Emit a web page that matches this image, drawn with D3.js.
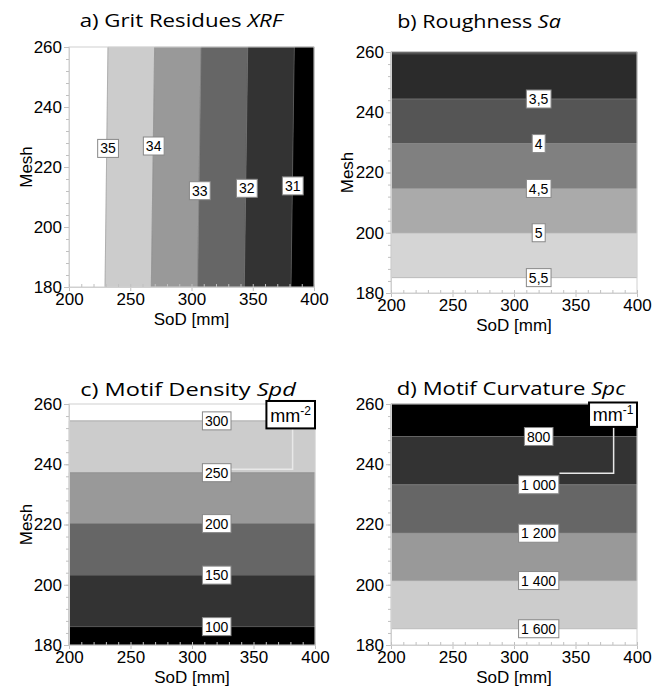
<!DOCTYPE html>
<html><head><meta charset="utf-8">
<script src="https://cdn.jsdelivr.net/npm/d3@7"></script>
<style>
html,body{margin:0;padding:0;background:#fff;}
svg{display:block;}
</style></head>
<body>
<svg id="chart" width="665" height="694"></svg>
<script>
// ---------- data ----------
const sodTicks = [200, 250, 300, 350, 400];
const meshTicks = [180, 200, 220, 240, 260];
const sodDomain = [200, 400];
const meshDomain = [180, 260];

// a) Grit residues XRF (vertical contour boundaries, slightly slanted)
const xrfLevels = ["35", "34", "33", "32", "31"];
const xrfSodAtTop = [231.8, 269.9, 307.8, 345.9, 383.9];
const xrfSodAtBottom = [229.4, 267.2, 305.0, 343.1, 381.2];
const xrfLabelSod = [231.8, 269.1, 306.7, 345.1, 382.6];
const xrfLabelMesh = [226.2, 227.0, 212.1, 212.9, 213.7];
const xrfBandColors = ["#ffffff", "#cccccc", "#999999", "#666666", "#333333", "#000000"];

// b) Roughness Sa (horizontal boundaries, top to bottom)
const saLevels = ["3", "3,5", "4", "4,5", "5", "5,5"];
const saMesh = [259.4, 244.4, 229.6, 214.7, 200.0, 185.1];
const saShowLabel = [false, true, true, true, true, true];
const saLabelSod = 320;
const saBandColors = ["#000000", "#2b2b2b", "#555555", "#808080", "#aaaaaa", "#d5d5d5", "#ffffff"];

// c) Motif density Spd
const spdLevels = ["300", "250", "200", "150", "100"];
const spdMesh = [254.4, 237.2, 220.3, 203.2, 186.1];
const spdLabelSod = 320;
const spdBandColors = ["#ffffff", "#cccccc", "#999999", "#666666", "#333333", "#000000"];
const spdUnit = ["mm", "-2"];

// d) Motif curvature Spc
const spcLevels = ["800", "1 000", "1 200", "1 400", "1 600"];
const spcMesh = [249.2, 233.2, 217.1, 201.4, 185.4];
const spcLabelSod = 320;
const spcBandColors = ["#000000", "#333333", "#666666", "#999999", "#cccccc", "#ffffff"];
const spcUnit = ["mm", "-1"];

// ---------- layout ----------
const svg = d3.select("#chart");
const TICK_FONT = "'Liberation Sans', Arial, sans-serif";
const TITLE_FONT = "'Open Sans', 'Noto Sans', sans-serif";

function makePanel(p) {
  const x = d3.scaleLinear().domain(sodDomain).range([p.x0, p.x1]);
  const y = d3.scaleLinear().domain(meshDomain).range([p.y1, p.y0]);
  const g = svg.append("g");
  const line = d3.line().x(d => x(d[0])).y(d => y(d[1]));

  // bands
  const bands = p.bands(x, y);
  g.selectAll("path.band").data(bands).join("path")
    .attr("class", "band")
    .attr("d", d => line(d.poly) + "Z")
    .attr("fill", d => d.color)
    .attr("stroke", d => d.color)
    .attr("stroke-width", 0.5);

  // boundary lines
  g.selectAll("path.bound").data(p.bounds).join("path")
    .attr("class", "bound")
    .attr("d", d => line(d))
    .attr("fill", "none")
    .attr("stroke", "#8c8c8c")
    .attr("stroke-opacity", 0.55)
    .attr("stroke-width", 1);

  // frame
  g.append("rect")
    .attr("x", p.x0).attr("y", p.y0)
    .attr("width", p.x1 - p.x0).attr("height", p.y1 - p.y0)
    .attr("fill", "none").attr("stroke", "#d0d0d0").attr("stroke-width", 1);

  // axes
  const yAxis = g.append("g").attr("transform", `translate(${p.x0},0)`)
    .call(d3.axisLeft(y).tickValues(meshTicks).tickSize(5).tickPadding(2));
  const yMinor = g.append("g").attr("transform", `translate(${p.x0},0)`)
    .call(d3.axisLeft(y).tickValues(d3.range(180, 261, 4)).tickSize(3).tickFormat(""));
  const xAxis = g.append("g").attr("transform", `translate(0,${p.y1})`)
    .call(d3.axisBottom(x).tickValues(sodTicks).tickSize(4).tickPadding(2));
  const xMinor = g.append("g").attr("transform", `translate(0,${p.y1})`)
    .call(d3.axisBottom(x).tickValues(d3.range(200, 401, 10)).tickSize(-3).tickFormat(""));
  [yAxis, yMinor, xAxis, xMinor].forEach(a => {
    a.select(".domain").attr("stroke", "#d0d0d0");
    a.selectAll(".tick line").attr("stroke", "#c0c0c0");
    a.selectAll("text").attr("font-family", TICK_FONT).attr("font-size", 17).attr("fill", "#000");
  });

  // title (stretched horizontally to the reference's width)
  const tg = g.append("g");
  const t = tg.append("text").attr("x", 0).attr("y", 0)
    .attr("text-anchor", "middle").attr("font-family", TITLE_FONT)
    .attr("font-size", 19).attr("fill", "#000");
  t.append("tspan").text(p.title[0]);
  t.append("tspan").attr("font-style", "italic").text(p.title[1]);
  const tw = t.node().getBBox().width;
  tg.attr("transform", `translate(${p.titleX},${p.titleY}) scale(${p.titleW / tw},1)`);

  g.append("text").attr("x", (p.x0 + p.x1) / 2).attr("y", p.y1 + 38)
    .attr("text-anchor", "middle").attr("font-family", TICK_FONT)
    .attr("font-size", 17).attr("fill", "#000").text("SoD [mm]");
  if (p.meshLabel) {
    g.append("text")
      .attr("transform", `translate(${p.meshX},${(p.y0 + p.y1) / 2}) rotate(-90)`)
      .attr("text-anchor", "middle").attr("font-family", TICK_FONT)
      .attr("font-size", 17).attr("fill", "#000").text("Mesh");
  }

  // leader line and unit box
  if (p.unit) {
    const u = p.unit;
    g.append("path")
      .attr("d", line([[u.leaderSod, u.boxMeshBottom], [u.leaderSod, u.leaderMesh], [u.leaderEndSod, u.leaderMesh]]))
      .attr("fill", "none").attr("stroke", "#e8e8e8").attr("stroke-width", 1.5);
    const bx0 = x(u.boxSod0), bx1 = x(u.boxSod1), by0 = y(u.boxMeshTop), by1 = y(u.boxMeshBottom);
    g.append("rect").attr("x", bx0).attr("y", by0)
      .attr("width", bx1 - bx0).attr("height", by1 - by0)
      .attr("fill", "#fff").attr("stroke", "#000").attr("stroke-width", 2);
    const ut = g.append("text").attr("x", (bx0 + bx1) / 2).attr("y", by1 - 6)
      .attr("text-anchor", "middle").attr("font-family", TICK_FONT)
      .attr("font-size", 18).attr("fill", "#000");
    ut.append("tspan").text(u.text[0]);
    ut.append("tspan").attr("dy", -7).attr("font-size", 12).text(u.text[1]);
  }

  // contour labels
  const lab = g.selectAll("g.lab").data(p.labels).join("g").attr("class", "lab")
    .attr("transform", d => `translate(${x(d.sod)},${y(d.mesh)})`);
  lab.append("text").attr("text-anchor", "middle").attr("dy", "0.36em")
    .attr("font-family", TICK_FONT).attr("font-size", 14).attr("fill", "#000")
    .text(d => d.text);
  lab.each(function () {
    const gg = d3.select(this);
    const bb = gg.select("text").node().getBBox();
    gg.insert("rect", "text")
      .attr("x", bb.x - 2.5).attr("y", -9)
      .attr("width", bb.width + 5).attr("height", 18)
      .attr("fill", "#fff").attr("stroke", "#888").attr("stroke-width", 1);
  });
}

function verticalBands(top, bottom, colors) {
  return () => colors.map((c, i) => {
    const lt = i === 0 ? sodDomain[0] : top[i - 1];
    const lb = i === 0 ? sodDomain[0] : bottom[i - 1];
    const rt = i === colors.length - 1 ? sodDomain[1] : top[i];
    const rb = i === colors.length - 1 ? sodDomain[1] : bottom[i];
    return { color: c, poly: [[lt, 260], [rt, 260], [rb, 180], [lb, 180]] };
  });
}
function horizontalBands(mesh, colors) {
  return () => colors.map((c, i) => {
    const t = i === 0 ? meshDomain[1] : mesh[i - 1];
    const b = i === colors.length - 1 ? meshDomain[0] : mesh[i];
    return { color: c, poly: [[200, t], [400, t], [400, b], [200, b]] };
  });
}
function hBounds(mesh) { return mesh.map(m => [[200, m], [400, m]]); }

// a
makePanel({
  x0: 69, x1: 314, y0: 47, y1: 287,
  title: ["a) Grit Residues ", "XRF"], titleX: 181, titleY: 27, titleW: 205,
  meshLabel: true, meshX: 32,
  bands: verticalBands(xrfSodAtTop, xrfSodAtBottom, xrfBandColors),
  bounds: xrfSodAtTop.map((s, i) => [[s, 260], [xrfSodAtBottom[i], 180]]),
  labels: xrfLevels.map((t, i) => ({ text: t, sod: xrfLabelSod[i], mesh: xrfLabelMesh[i] }))
});
// b
makePanel({
  x0: 391, x1: 637, y0: 52, y1: 293,
  title: ["b) Roughness ", "Sa"], titleX: 479, titleY: 28, titleW: 164,
  meshLabel: true, meshX: 353,
  bands: horizontalBands(saMesh, saBandColors),
  bounds: hBounds(saMesh),
  labels: saLevels.map((t, i) => ({ text: t, sod: saLabelSod, mesh: saMesh[i], show: saShowLabel[i] })).filter(d => d.show)
});
// c
makePanel({
  x0: 69, x1: 315, y0: 404, y1: 645,
  title: ["c) Motif Density ", "Spd"], titleX: 188, titleY: 396, titleW: 217,
  meshLabel: true, meshX: 32,
  bands: horizontalBands(spdMesh, spdBandColors),
  bounds: hBounds(spdMesh),
  labels: spdLevels.map((t, i) => ({ text: t, sod: spdLabelSod, mesh: spdMesh[i] })),
  unit: { text: spdUnit, boxSod0: 360.5, boxSod1: 400, boxMeshTop: 261, boxMeshBottom: 251.9,
          leaderSod: 381.8, leaderMesh: 238.3, leaderEndSod: 328 }
});
// d
makePanel({
  x0: 391, x1: 637, y0: 404, y1: 645,
  title: ["d) Motif Curvature ", "Spc"], titleX: 511, titleY: 395, titleW: 229,
  meshLabel: false,
  bands: horizontalBands(spcMesh, spcBandColors),
  bounds: hBounds(spcMesh),
  labels: spcLevels.map((t, i) => ({ text: t, sod: spcLabelSod, mesh: spcMesh[i] })),
  unit: { text: spcUnit, boxSod0: 361, boxSod1: 400, boxMeshTop: 260.5, boxMeshBottom: 252.4,
          leaderSod: 381, leaderMesh: 237.0, leaderEndSod: 337 }
});
</script>
</body></html>
